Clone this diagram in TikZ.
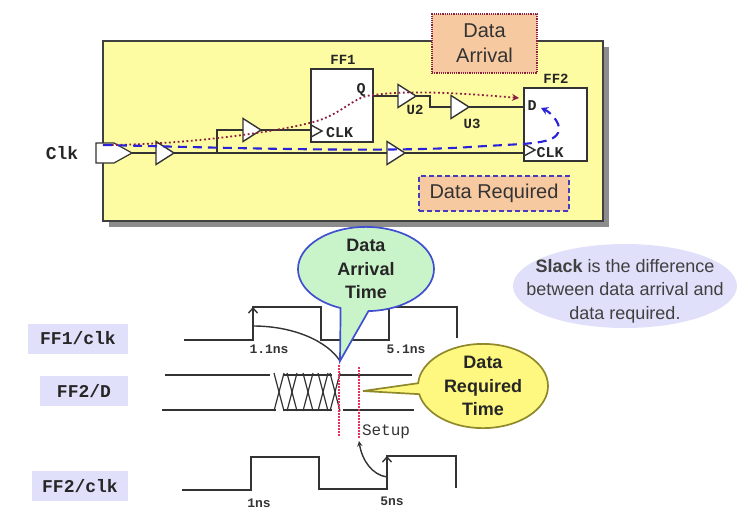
\documentclass[tikz,border=0pt]{standalone}
\usepackage{fontspec}
\setmainfont{Liberation Sans}
\setmonofont{Liberation Mono}
\usetikzlibrary{shapes.geometric, shapes.symbols, shapes.callouts, shadows, arrows, arrows.meta, positioning, calc}
\definecolor{panelyellow}{HTML}{FEFCA2}
\definecolor{tagorange}{HTML}{F6C9A0}
\definecolor{traceblack}{HTML}{333333}
\definecolor{pathred}{HTML}{8A2040}
\definecolor{pathblue}{HTML}{2A22D8}
\definecolor{lavender}{HTML}{E0E0FA}
\definecolor{guidepink}{HTML}{E8305A}
\definecolor{calloutgreen}{HTML}{C9F3C9}
\definecolor{calloutblue}{HTML}{4050D0}

\begin{document}
\begin{tikzpicture}[
    x=1pt, y=-1pt,
    panel/.style={rectangle, minimum width=500pt, minimum height=180pt, outer sep=0pt, draw=black!75, line width=1.2pt, fill=panelyellow, drop shadow={shadow xshift=6pt, shadow yshift=-6pt, fill=black!45, opacity=1}},
    buffer/.style={isosceles triangle, isosceles triangle stretches, minimum height=18pt, minimum width=23pt, inner sep=0pt, outer sep=0pt, anchor=lower side, draw=black!80, line width=1.4pt, fill=white},
    clkmark/.style={isosceles triangle, isosceles triangle stretches, minimum height=11pt, minimum width=12pt, inner sep=0pt, outer sep=0pt, anchor=lower side, draw=black!80, line width=1.4pt},
    port/.style={signal, signal to=east, signal pointer angle=58, minimum width=36pt, minimum height=20pt, inner sep=0pt, outer sep=0pt, draw=black!80, line width=1.2pt, fill=white},
    flop/.style={rectangle, outer sep=0pt, draw=black!80, line width=1.5pt, fill=white},
    cell/.style={inner sep=0pt, font=\ttfamily\bfseries\fontsize{14}{14}\selectfont, text=black!85},
    pinname/.style={inner sep=0pt, font=\ttfamily\bfseries\fontsize{15}{15}\selectfont, text=black!85},
    tag/.style={rectangle, outer sep=0pt, fill=tagorange, text=black!80, align=center, font=\fontsize{20}{25}\selectfont},
    signame/.style={rectangle, minimum height=30pt, inner sep=0pt, fill=lavender, text=black!85, font=\ttfamily\bfseries\fontsize{18}{18}\selectfont},
    delay/.style={inner sep=0pt, text=black!80, font=\ttfamily\bfseries\fontsize{13}{13}\selectfont},
    bubble/.style={ellipse callout, inner sep=0pt, align=center, line width=1.7pt, font=\bfseries\fontsize{18}{23.5}\selectfont, text=black!85},
    wire/.style={draw=black!80, line width=1.5pt},
    trace/.style={draw=traceblack, line width=1.4pt},
    redpath/.style={draw=pathred, dash pattern=on 1.8pt off 2.6pt, line width=1.8pt},
    bluepath/.style={draw=pathblue, dash pattern=on 9pt off 6pt, line width=2.1pt},
    guide/.style={draw=guidepink, dash pattern=on 1.5pt off 1.5pt, line width=1.1pt},
    risearrow/.style={draw=traceblack, line width=1.4pt, -{Straight Barb[length=5pt,width=9pt]}},
    arrow/.style={draw=traceblack, line width=1.4pt, ->, >=stealth}
]
\useasboundingbox (0,0) rectangle (752,520);

\node (board) [panel] at (353,131) {};
\node (clkin) [port] at (105,153) {};
\node (clklabel) [inner sep=0pt, font=\ttfamily\bfseries\fontsize{18}{18}\selectfont, text=black!85] at (62,153) {Clk};

\node (bufa) [buffer] at (156,153) {};
\node (bufb) [buffer] at (243,130) {};
\node (bufc) [buffer] at (387,153) {};
\node (bufu2) [buffer] at (398,96) {};
\node (bufu3) [buffer] at (451,107) {};
\node (ff1) [flop, minimum width=62pt, minimum height=73pt] at (342,105.5) {};
\node (ff2) [flop, minimum width=63pt, minimum height=73pt] at (555.5,124.5) {};
\node (ff1name) [cell] at (343,60) {FF1};
\node (ff2name) [cell] at (556,79) {FF2};
\node (u2name) [cell] at (415,110) {U2};
\node (u3name) [cell] at (472,124) {U3};
\node (ff1q) [pinname] at (361,90) {Q};
\node (ff1clk) [clkmark] at (311,131) {};
\node (ff1clkname) [pinname] at (339.5,133) {CLK};
\node (ff2d) [pinname] at (532,106) {D};
\node (ff2clk) [clkmark] at (524,150) {};
\node (ff2clkname) [pinname] at (550,153) {CLK};
\node (arrivaltag) [tag, draw=pathred, densely dotted, line width=1.2pt, minimum width=105pt, minimum height=59pt, inner sep=0pt] at (484.5,43.5) {Data\\Arrival};
\node (requiredtag) [tag, draw=pathblue!70!gray, dash pattern=on 5pt off 3pt, line width=1.5pt, minimum width=150pt, minimum height=35pt, inner sep=0pt] at (494,193.5) {Data Required};

\coordinate (branch) at (217,153);
\coordinate (kink) at (430,96);
\draw [wire] (clkin.east) -- (bufa.lower side);
\draw [wire] (bufa.apex) -- (bufc.lower side);
\draw [wire] (bufc.apex) -- (bufc.apex -| ff2.west);
\draw [wire] (branch) |- (bufb.lower side);
\draw [wire] (bufb.apex) -- (bufb.apex -| ff1.west);
\draw [wire] (bufu2.lower side) -- (bufu2.lower side -| ff1.east);
\draw [wire] (bufu2.apex) -- (kink) |- (bufu3.lower side);
\draw [wire] (bufu3.apex) -- (bufu3.apex -| ff2.west);

\coordinate (launch) at (103,145);
\coordinate (arrivalend) at (519,98);
\draw [redpath, -{Stealth[length=7pt,width=7pt]}] (launch) .. controls (190,145) and (290,130) .. (320,120) .. controls (345,111) and (355,96) .. (373,95) .. controls (410,90) and (460,93) .. (arrivalend);
\coordinate (requiredend) at (541,108);
\draw [bluepath, -{Stealth[length=7pt,width=8pt]}] (launch) .. controls (200,147) and (380,153) .. (470,147) .. controls (530,143) and (556,145) .. (559,130) .. controls (560,122) and (550,112) .. (requiredend);

\node (ff1sig) [signame, minimum width=100pt] at (78,338.5) {FF1/clk};
\node (ff2dsig) [signame, minimum width=88pt] at (84,391) {FF2/D};
\node (ff2clksig) [signame, minimum width=96pt] at (80,486) {FF2/clk};

\draw [trace] (184,340) -- (253,340) -- (253,307) -- (321,307) -- (321,340) -- (389,340) -- (389,307) -- (457,307) -- (457,338);
\draw [trace] (165,375) -- (270,375);
\draw [trace] (162,410) -- (276,410);
\draw [trace] (283,375) -- (332,375);
\draw [trace] (283,410) -- (332,410);
\foreach \cx in {279,292,308,323,335} {
    \draw [trace, line width=1.2pt] (\cx-5,373) -- (\cx+5,411);
    \draw [trace, line width=1.2pt] (\cx+5,373) -- (\cx-5,411);
}
\draw [trace] (340,375) -- (412,375);
\draw [trace] (343,410) -- (414,410);
\draw [trace] (182,490) -- (251,490) -- (251,457) -- (319,457) -- (319,489) -- (387,489) -- (387,456) -- (456,456) -- (456,488);

\coordinate (ff1edge) at (253,307);
\coordinate (ff1base) at (253,326);
\coordinate (arrivaltip) at (340,361);
\coordinate (ff2edge) at (387,456);
\coordinate (ff2base) at (387,477);
\coordinate (setuptip) at (359,441);
\draw [risearrow] (ff1base) -- (ff1edge);
\draw [trace] (ff1base) .. controls (295,326) and (328,342) .. (arrivaltip);
\draw [risearrow] (ff2base) -- (ff2edge);
\draw [arrow] (ff2base) .. controls (372,475) and (362,460) .. (setuptip);

\coordinate (holdtop) at (339,365);
\coordinate (holdbot) at (339,436);
\coordinate (setuptop) at (359,367);
\coordinate (setupbot) at (359,438);
\draw [guide] (holdtop) -- (holdbot);
\draw [guide] (setuptop) -- (setupbot);

\node (lbla) [delay] at (269,349) {1.1ns};
\node (lblb) [delay] at (406,349) {5.1ns};
\node (lblc) [delay] at (259,503) {1ns};
\node (lbld) [delay] at (392,501) {5ns};
\node (lblsetup) [inner sep=0pt, text=black!80, font=\ttfamily\fontsize{16}{16}\selectfont] at (386,432) {Setup};

\node (arrivalcall) [bubble, fill=calloutgreen, draw=calloutblue, minimum width=136pt, minimum height=75pt, callout pointer arc=24, callout absolute pointer={(arrivaltip)}] at (366,269) {Data\\Arrival\\Time};
\coordinate (requiredtip) at (363,391);
\node (requiredcall) [bubble, fill=yellow!50!white, draw=olive!70!gray, minimum width=130pt, minimum height=71pt, callout absolute pointer={(requiredtip)}] at (483,386) {Data\\Required\\Time};
\node (slackbg) [ellipse, fill=lavender, minimum width=224pt, minimum height=84pt, inner sep=0pt] at (625,286) {};
\node (slack) [inner sep=0pt, align=center, text=black!75, font=\fontsize{18}{23.5}\selectfont] at (625,291) {\textbf{Slack} is the difference\\between data arrival and\\data required.};

\end{tikzpicture}
\end{document}
